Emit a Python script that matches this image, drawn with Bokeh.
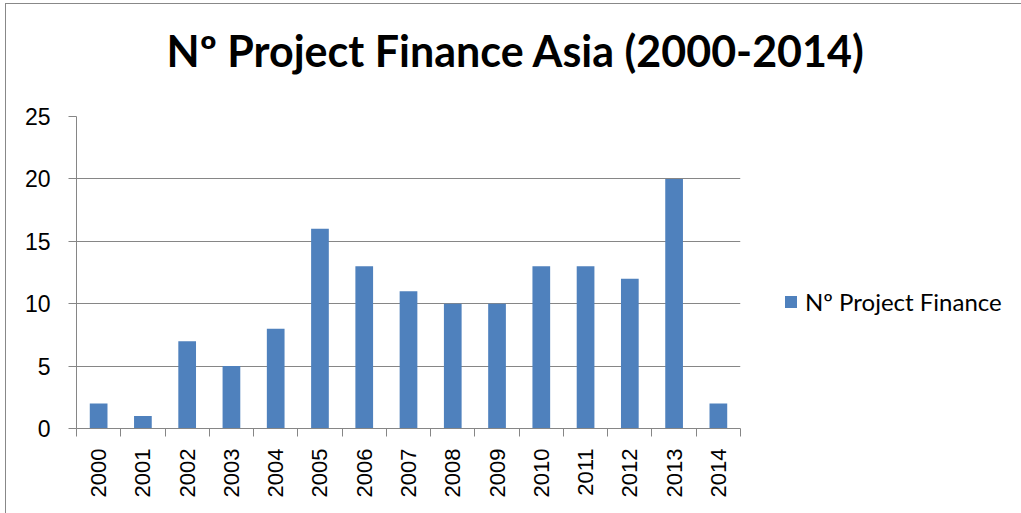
import math
from bokeh.plotting import figure
from bokeh.models import Range1d, FixedTicker, Legend, LegendItem, LinearAxis, Title
from bokeh.embed import file_html
from bokeh.resources import INLINE

years = [2000, 2001, 2002, 2003, 2004, 2005, 2006, 2007, 2008, 2009, 2010, 2011, 2012, 2013, 2014]
counts = [2, 1, 7, 5, 8, 16, 13, 11, 10, 10, 13, 13, 12, 20, 2]
y_ticks = [0, 5, 10, 15, 20, 25]
series_name = "Nº Project Finance"
title_text = "Nº Project Finance Asia (2000-2014)"

BAR = "#4F81BD"
GRAY = "#868686"

p = figure(frame_width=664, frame_height=312, output_backend="svg", toolbar_location=None,
           x_range=Range1d(years[0] - 0.5, years[-1] + 0.5), y_range=Range1d(0, 25),
           min_border_left=70, min_border_right=281, min_border_top=112, min_border_bottom=85,
           styles={"margin-left": "5px", "margin-top": "3px",
                   "border-left": "1px solid #888888", "border-top": "1px solid #888888"})
p.title = None

r = p.vbar(x=years, top=counts, width=0.4, fill_color=BAR, line_color=None)

# invisible spacer axis between frame and title
spacer = LinearAxis(ticker=FixedTicker(ticks=years), axis_line_color=None,
                    major_tick_line_color=None, minor_tick_line_color=None,
                    major_tick_out=26, major_tick_in=0, major_label_standoff=0,
                    major_label_text_font_size="1px", major_label_text_alpha=0)
p.add_layout(spacer, "above")

title = Title(text=title_text, align="left", offset=90, text_font="Lato",
              text_font_size="43px", text_font_style="bold", text_color="black",
              standoff=30)
p.add_layout(title, "above")

p.outline_line_color = None
p.xgrid.visible = False
p.ygrid.grid_line_color = GRAY
p.ygrid.grid_line_width = 1

p.yaxis.ticker = FixedTicker(ticks=y_ticks)
p.yaxis.axis_line_color = GRAY
p.yaxis.major_tick_line_color = GRAY
p.yaxis.major_tick_out = 8
p.yaxis.major_tick_in = 0
p.yaxis.minor_tick_line_color = None
p.yaxis.major_label_text_font = "Liberation Sans"
p.yaxis.major_label_text_font_size = "23px"
p.yaxis.major_label_text_color = "black"
p.yaxis.major_label_standoff = 18

minor = [y - 0.5 for y in years] + [years[-1] + 0.5]
xa = p.below[0]
xa.ticker = FixedTicker(ticks=years, minor_ticks=minor)
xa.axis_line_color = GRAY
xa.major_tick_line_color = None
xa.major_tick_out = 0
xa.major_tick_in = 0
xa.minor_tick_line_color = GRAY
xa.minor_tick_out = 8
xa.minor_tick_in = 0
xa.major_label_orientation = math.pi / 2
xa.major_label_text_font = "Liberation Sans"
xa.major_label_text_font_size = "22px"
xa.major_label_text_color = "black"
xa.major_label_standoff = 12

legend = Legend(items=[LegendItem(label=series_name, renderers=[r])], location=(43, 112),
                label_text_font="Lato", label_text_font_size="24px", label_text_color="black",
                glyph_width=15, glyph_height=15, label_standoff=7, padding=0, margin=0,
                border_line_color=None, background_fill_alpha=0)
p.add_layout(legend, "right")

open("out.html", "w").write(file_html(p, INLINE))
